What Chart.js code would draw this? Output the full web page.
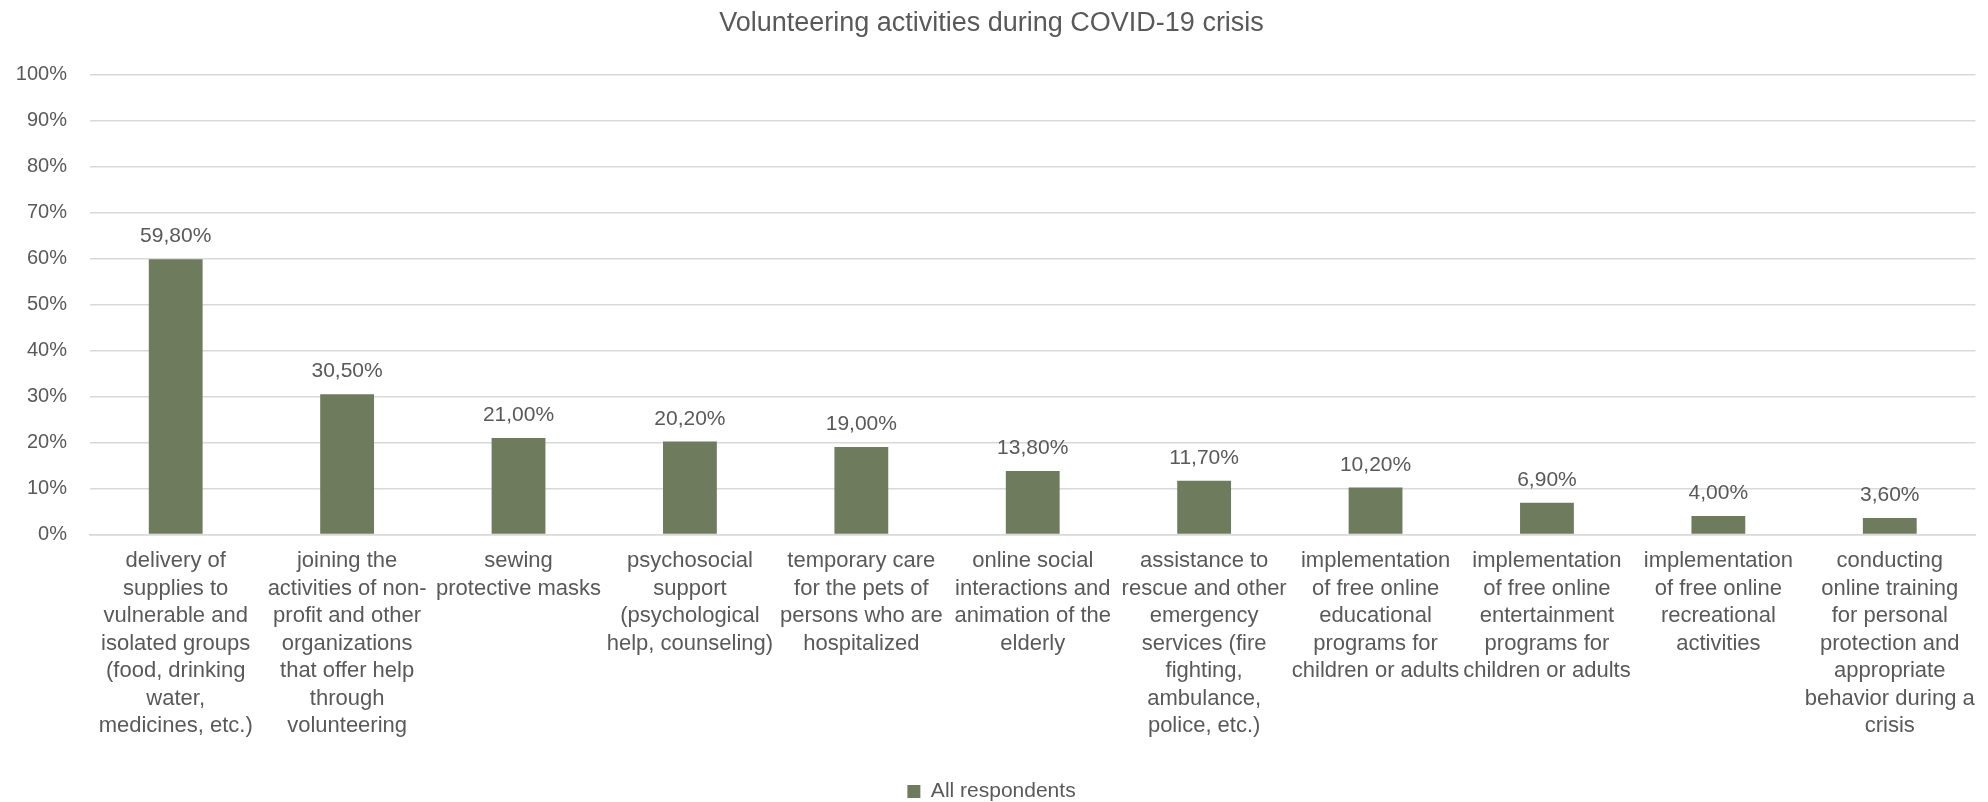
<!DOCTYPE html>
<html>
<head>
<meta charset="utf-8">
<title>Volunteering activities during COVID-19 crisis</title>
<script src="https://cdn.jsdelivr.net/npm/chart.js@4/dist/chart.umd.min.js"></script>
<style>
  html, body { margin: 0; padding: 0; background: #fff; }
  #wrap { width: 1988px; height: 802px; position: relative; }
</style>
</head>
<body>
<div id="wrap"><canvas id="activitiesChart"></canvas></div>
<script>
const activities = [
  ['delivery of', 'supplies to', 'vulnerable and', 'isolated groups', '(food, drinking', 'water,', 'medicines, etc.)'],
  ['joining the', 'activities of non-', 'profit and other', 'organizations', 'that offer help', 'through', 'volunteering'],
  ['sewing', 'protective masks'],
  ['psychosocial', 'support', '(psychological', 'help, counseling)'],
  ['temporary care', 'for the pets of', 'persons who are', 'hospitalized'],
  ['online social', 'interactions and', 'animation of the', 'elderly'],
  ['assistance to', 'rescue and other', 'emergency', 'services (fire', 'fighting,', 'ambulance,', 'police, etc.)'],
  ['implementation', 'of free online', 'educational', 'programs for', 'children or adults'],
  ['implementation', 'of free online', 'entertainment', 'programs for', 'children or adults'],
  ['implementation', 'of free online', 'recreational', 'activities'],
  ['conducting', 'online training', 'for personal', 'protection and', 'appropriate', 'behavior during a', 'crisis']
];
const allRespondents = [59.8, 30.5, 21.0, 20.2, 19.0, 13.8, 11.7, 10.2, 6.9, 4.0, 3.6];
const percentTicks = [0, 10, 20, 30, 40, 50, 60, 70, 80, 90, 100];

const textColor = '#595959';
const barColor = '#6e7b5d';
const fontFamily = '"Liberation Sans", Arial, sans-serif';

// value labels above the bars, "59,80%" style
const barValueLabels = {
  id: 'barValueLabels',
  afterDatasetsDraw(chart) {
    const ctx = chart.ctx;
    const meta = chart.getDatasetMeta(0);
    ctx.save();
    ctx.font = '21px ' + fontFamily;
    ctx.fillStyle = textColor;
    ctx.textAlign = 'center';
    ctx.textBaseline = 'alphabetic';
    meta.data.forEach((bar, i) => {
      const txt = allRespondents[i].toFixed(2).replace('.', ',') + '%';
      ctx.fillText(txt, bar.x, bar.y - 17);
    });
    ctx.restore();
  }
};

Chart.defaults.font.family = fontFamily;
Chart.defaults.color = textColor;

new Chart(document.getElementById('activitiesChart'), {
  type: 'bar',
  data: {
    labels: activities,
    datasets: [{
      label: 'All respondents',
      data: allRespondents,
      backgroundColor: barColor,
      borderWidth: 0,
      categoryPercentage: 1,
      barPercentage: 0.314
    }]
  },
  options: {
    responsive: true,
    maintainAspectRatio: false,
    devicePixelRatio: 1,
    animation: false,
    layout: { padding: { left: 0, right: 5, top: 0, bottom: -10 } },
    plugins: {
      title: {
        display: true,
        text: 'Volunteering activities during COVID-19 crisis',
        color: textColor,
        font: { size: 27, weight: 'normal' },
        padding: { top: 7, bottom: 35 }
      },
      legend: {
        position: 'bottom',
        labels: {
          boxWidth: 13,
          boxHeight: 13,
          padding: 28,
          color: textColor,
          font: { size: 21 }
        }
      },
      tooltip: { enabled: false }
    },
    scales: {
      x: {
        grid: { display: false, drawTicks: false },
        border: { display: true, color: '#d9d9d9', width: 1.5 },
        ticks: {
          padding: 13,
          maxRotation: 0,
          autoSkip: false,
          color: textColor,
          font: { size: 22, lineHeight: 1.25 }
        }
      },
      y: {
        min: 0,
        max: 100,
        afterFit(scale) { scale.width = 90; },
        afterBuildTicks(scale) { scale.ticks = percentTicks.map(v => ({ value: v })); },
        grid: { color: '#d9d9d9', lineWidth: 1.5, drawTicks: false },
        border: { display: false },
        ticks: {
          padding: 23,
          color: textColor,
          font: { size: 20 },
          callback: v => v + '%'
        }
      }
    }
  },
  plugins: [barValueLabels]
});
</script>
</body>
</html>
